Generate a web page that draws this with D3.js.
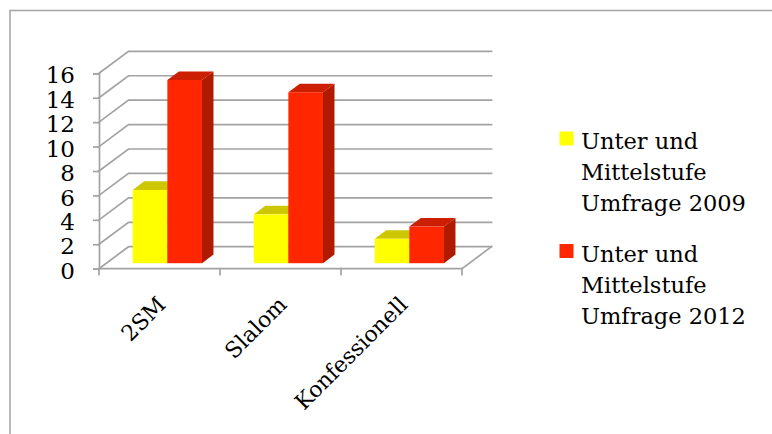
<!DOCTYPE html>
<html>
<head>
<meta charset="utf-8">
<script src="https://cdn.jsdelivr.net/npm/d3@7/dist/d3.min.js"></script>
<style>
  html, body { margin: 0; padding: 0; background: #fff; }
  svg { display: block; }
  text { font-family: "DejaVu Serif", "Liberation Serif", serif; fill: #000; }
</style>
</head>
<body>
<svg id="chart" width="772" height="434"></svg>
<script>
// Survey results per category, two survey years
const categories = ["2SM", "Slalom", "Konfessionell"];
const seriesNames = [
  ["Unter und", "Mittelstufe", "Umfrage 2009"],
  ["Unter und", "Mittelstufe", "Umfrage 2012"]
];
const values2009 = [6, 4, 2];
const values2012 = [15, 14, 3];
const yTicks = [0, 2, 4, 6, 8, 10, 12, 14, 16];

// Face colours for each series: front, top, side
const palette = [
  { front: "#FFFF00", top: "#CCC700", side: "#B3AE00" },
  { front: "#FF2600", top: "#CC1E00", side: "#B01B00" }
];
const gridColor = "#A3A3A3";

const svg = d3.select("#chart");

// Outer frame
svg.append("rect")
  .attr("x", 10).attr("y", 10.5)
  .attr("width", 820).attr("height", 480)
  .attr("fill", "none").attr("stroke", "#A8A8A8").attr("stroke-width", 1.6);

// Front plane scales
const x = d3.scaleBand().domain(categories).range([99, 462]);
const y = d3.scaleLinear().domain([0, 16]).range([268.7, 73.3]);

// Depth of the box (full depth vector)
const DX = 29.5, DY = -22;
const depth = (f) => [f * DX, f * DY];

const grid = svg.append("g")
  .attr("stroke", gridColor).attr("stroke-width", 1.7).attr("fill", "none")
  .attr("stroke-linecap", "square");

const [bx, by] = depth(1);
const xMin = x.range()[0], xMax = x.range()[1];

// Left wall diagonals and back wall gridlines
yTicks.forEach(v => {
  const yy = y(v);
  grid.append("path")
    .attr("d", `M${xMin},${yy}L${xMin + bx},${yy + by}L${xMax + bx},${yy + by}`);
});

// Floor: front edge and right edge
grid.append("path")
  .attr("d", `M${xMin},${y(0)}L${xMax},${y(0)}L${xMax + bx},${y(0) + by}`);

// Category boundary ticks along the floor front edge
const bounds = categories.map(c => x(c)).concat([xMax]);
bounds.forEach(bxv => {
  grid.append("line")
    .attr("x1", bxv).attr("x2", bxv)
    .attr("y1", y(0)).attr("y2", y(0) + 6);
});

// Value axis on the front-left edge
const yAxis = d3.axisLeft(y).tickValues(yTicks).tickSize(6).tickPadding(18)
  .tickFormat(d3.format("d"));
const gy = svg.append("g").attr("transform", `translate(${xMin},0)`).call(yAxis);
gy.selectAll("path, line").attr("stroke", gridColor).attr("stroke-width", 1.7);
gy.selectAll("text")
  .attr("font-family", "DejaVu Serif, Liberation Serif, serif")
  .attr("font-size", 23).attr("fill", "#000")
  .attr("dy", "0.42em");

// Bars as 3D prisms
const bw = x.bandwidth();
const inner = d3.scaleBand().domain([0, 1])
  .range([0.218 * bw, 0.79 * bw]).paddingInner(0);
const f0 = 0.25, f1 = 0.64;
const [fx0, fy0] = depth(f0);
const [fx1, fy1] = depth(f1);
const series = [values2009, values2012];

const bars = svg.append("g");
categories.forEach((c, ci) => {
  series.forEach((vals, si) => {
    const col = palette[si];
    const left = x(c) + inner(si) + fx0;
    const right = left + inner.bandwidth();
    const bottom = y(0) + fy0;
    const top = y(vals[ci]) + fy0;
    const ddx = fx1 - fx0, ddy = fy1 - fy0;
    const g = bars.append("g");
    // side face
    g.append("path")
      .attr("d", `M${right},${bottom}L${right + ddx},${bottom + ddy}L${right + ddx},${top + ddy}L${right},${top}Z`)
      .attr("fill", col.side);
    // top face
    g.append("path")
      .attr("d", `M${left},${top}L${left + ddx},${top + ddy}L${right + ddx},${top + ddy}L${right},${top}Z`)
      .attr("fill", col.top);
    // front face
    g.append("rect")
      .attr("x", left).attr("y", top)
      .attr("width", right - left).attr("height", bottom - top)
      .attr("fill", col.front);
  });
});

// Category labels, rotated
svg.append("g").selectAll("text")
  .data(categories)
  .join("text")
  .attr("transform", d => `translate(${x(d) + bw / 2 + 7.5},306) rotate(-45)`)
  .attr("text-anchor", "end")
  .attr("font-size", 22)
  .text(d => d);

// Legend
const legend = svg.append("g");
const legendTop = [149, 261.5];
seriesNames.forEach((lines, si) => {
  legend.append("rect")
    .attr("x", 559.5).attr("y", legendTop[si] - 17.5)
    .attr("width", 14).attr("height", 14)
    .attr("fill", palette[si].front);
  lines.forEach((t, li) => {
    legend.append("text")
      .attr("x", 581).attr("y", legendTop[si] + li * 31)
      .attr("font-size", 22.5)
      .text(t);
  });
});
</script>
</body>
</html>
